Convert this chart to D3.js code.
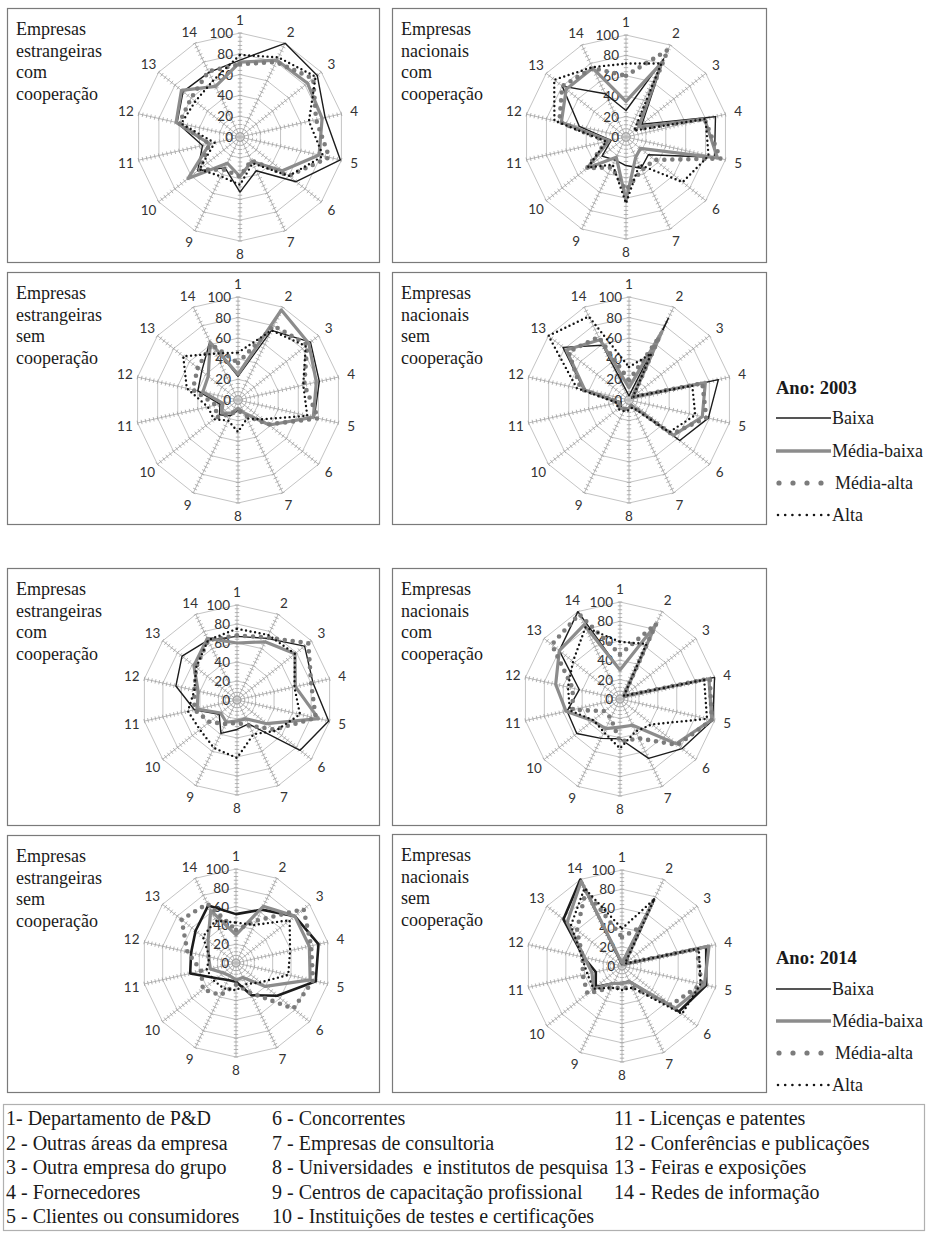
<!DOCTYPE html>
<html><head><meta charset="utf-8">
<script src="https://cdn.jsdelivr.net/npm/d3@7"></script>
<style>body{margin:0;background:#fff}svg{display:block}</style>
</head><body>
<svg id="c" width="927" height="1233"></svg>
<script>
// ---------- DATA ----------
const categories = ["1","2","3","4","5","6","7","8","9","10","11","12","13","14"];
const radialTicks = [0,20,40,60,80,100];
const seriesNames = ["Baixa","Média-baixa","Média-alta","Alta"];
const yearLabels = ["Ano: 2003","Ano: 2014"];
const titleEstCom = ["Empresas","estrangeiras","com","cooperação"];
const titleNacCom = ["Empresas","nacionais","com","cooperação"];
const titleEstSem = ["Empresas","estrangeiras","sem","cooperação"];
const titleNacSem = ["Empresas","nacionais","sem","cooperação"];
// each panel: [Baixa, Média-baixa, Média-alta, Alta], values per category 1..14
const est2003Com = [
  [74,100,95,84,99,69,36,53,33,52,37,62,70,69],
  [72,82,83,81,78,52,26,38,28,64,30,63,72,54],
  [70,80,90,75,88,60,25,38,35,50,30,60,60,70],
  [79,85,93,68,82,60,28,46,42,50,25,58,55,60]
];
const nac2003Com = [
  [26,85,20,90,89,28,34,28,25,30,15,47,80,47],
  [35,81,16,79,92,18,22,62,22,49,17,65,75,75],
  [60,95,12,79,95,36,36,52,33,49,20,67,80,75],
  [72,80,10,80,83,71,30,65,30,48,20,72,90,76]
];
const est2003Sem = [
  [23,75,90,81,76,39,14,10,17,23,18,40,45,63],
  [25,97,88,78,75,39,14,8,14,20,15,35,37,62],
  [36,80,86,66,80,38,17,10,15,27,22,45,50,60],
  [46,75,84,65,69,30,20,31,22,30,30,51,68,50]
];
const nac2003Sem = [
  [4,88,3,89,79,63,6,7,10,10,8,45,82,59],
  [12,74,5,76,73,55,6,8,10,12,10,44,78,65],
  [19,68,5,73,77,53,6,9,10,12,10,48,75,68],
  [32,50,5,63,66,50,8,10,12,14,12,52,100,90]
];
const est2014Com = [
  [67,72,91,82,99,85,28,31,39,24,46,66,74,70],
  [60,68,78,63,88,40,22,22,26,22,43,42,58,72],
  [68,73,96,80,85,50,30,24,28,37,46,46,55,70],
  [75,76,78,62,68,52,40,61,56,50,53,46,55,70]
];
const nac2014Com = [
  [30,86,6,100,98,82,68,41,45,57,56,43,80,100],
  [30,85,5,94,97,74,30,29,34,36,57,68,80,85],
  [46,86,5,95,97,76,45,44,22,20,50,50,90,97],
  [59,63,5,89,92,42,37,51,38,35,53,55,62,82]
];
const est2014Sem = [
  [52,63,80,90,87,56,38,20,20,26,50,49,55,68],
  [30,67,80,80,81,40,17,18,15,17,28,30,38,62],
  [35,50,92,82,84,78,35,23,38,45,38,53,74,70],
  [43,45,73,59,57,33,25,29,30,30,32,29,45,50]
];
const nac2014Sem = [
  [2,77,3,90,90,76,18,18,20,35,28,41,78,100],
  [3,72,3,93,88,71,18,18,20,38,32,40,73,98],
  [30,45,4,80,85,65,25,23,25,46,42,42,60,87],
  [39,77,4,82,84,80,25,25,25,38,37,43,68,90]
];
const legendCol1 = ["1- Departamento de P&D","2 - Outras áreas da empresa","3 - Outra empresa do grupo","4 - Fornecedores","5 - Clientes ou consumidores"];
const legendCol2 = ["6 - Concorrentes","7 - Empresas de consultoria","8 - Universidades  e institutos de pesquisa","9 - Centros de capacitação profissional","10 - Instituições de testes e certificações"];
const legendCol3 = ["11 - Licenças e patentes","12 - Conferências e publicações","13 - Feiras e exposições","14 - Redes de informação"];

// ---------- LAYOUT ----------
const panels = [
  {data:est2003Com, title:titleEstCom, box:[7,8,372,254],   cx:240, cy:137, R:104, bw:1.4},
  {data:nac2003Com, title:titleNacCom, box:[392,8,374,254], cx:626, cy:137, R:102, bw:1.4},
  {data:est2003Sem, title:titleEstSem, box:[7,272,372,252], cx:238, cy:400, R:103, bw:1.4},
  {data:nac2003Sem, title:titleNacSem, box:[392,272,374,252], cx:629, cy:400, R:103, bw:1.4},
  {data:est2014Com, title:titleEstCom, box:[7,568,372,257], cx:237, cy:700, R:95, bw:1.4},
  {data:nac2014Com, title:titleNacCom, box:[392,568,374,257], cx:620, cy:699, R:97, bw:1.4},
  {data:est2014Sem, title:titleEstSem, box:[7,835,372,257], cx:236, cy:963, R:94, bw:2.6},
  {data:nac2014Sem, title:titleNacSem, box:[392,834,374,258], cx:622, cy:966, R:96, bw:2.6}
];
const serif = "'Liberation Serif','Times New Roman',serif";
const sans = "Lato,'Open Sans',sans-serif";
const styles = [
  {stroke:"#1c1c1c", w:null, dash:null, cap:"butt"},
  {stroke:"#8c8c8c", w:3.2, dash:null, cap:"butt"},
  {stroke:"#7c7c7c", w:4.6, dash:"0 8", cap:"round"},
  {stroke:"#141414", w:2.4, dash:"0 4.6", cap:"round"}
];

const svg = d3.select("#c");
const angle = d3.scaleLinear().domain([0, categories.length]).range([0, 2*Math.PI]);

panels.forEach(p => {
  const [bx,by,bw,bh] = p.box;
  svg.append("rect").attr("x",bx+0.5).attr("y",by+0.5).attr("width",bw).attr("height",bh)
    .attr("fill","#fff").attr("stroke","#7a7a7a").attr("stroke-width",1.2);
  const t = svg.append("text").attr("font-family",serif).attr("font-size",18).attr("fill","#1a1a1a");
  p.title.forEach((s,i)=> t.append("tspan").attr("x",bx+9).attr("y",by+27+i*21.6).text(s));

  const g = svg.append("g").attr("transform",`translate(${p.cx},${p.cy})`);
  const r = d3.scaleLinear().domain([0,100]).range([0,p.R]);
  // rings
  const ring = d3.lineRadial().angle((d,i)=>angle(i)).radius(d=>r(d)).curve(d3.curveLinearClosed);
  radialTicks.slice(1).forEach(v=>{
    g.append("path").attr("d", ring(categories.map(()=>v))).attr("fill","none")
      .attr("stroke","#c4c4c4").attr("stroke-width",1);
  });
  // spokes with tick marks
  const minor = d3.range(4,101,4);
  categories.forEach((c,i)=>{
    const a = angle(i), sx = Math.sin(a), sy = -Math.cos(a);
    g.append("line").attr("x1",0).attr("y1",0).attr("x2",sx*r(100)).attr("y2",sy*r(100))
      .attr("stroke","#b8b8b8").attr("stroke-width",1);
    minor.forEach(v=>{
      const px = sx*r(v), py = sy*r(v), nx = -sy, ny = sx;
      g.append("line").attr("x1",px-nx*2.2).attr("y1",py-ny*2.2).attr("x2",px+nx*2.2).attr("y2",py+ny*2.2)
        .attr("stroke","#a0a0a0").attr("stroke-width",0.8);
    });
    const lr = r(100)+13;
    g.append("text").attr("x",sx*lr).attr("y",sy*lr).attr("text-anchor","middle")
      .attr("dominant-baseline","central").attr("font-family",sans).attr("font-size",13.5)
      .attr("fill","#333").text(c);
  });
  // tick labels
  radialTicks.forEach(v=>{
    g.append("text").attr("x",-7).attr("y",-r(v)).attr("text-anchor","end")
      .attr("dominant-baseline","central").attr("font-family",sans).attr("font-size",13.5)
      .attr("fill","#333").text(v);
  });
  // series
  const line = d3.lineRadial().angle((d,i)=>angle(i)).radius(d=>r(d)).curve(d3.curveLinearClosed);
  p.data.forEach((vals,si)=>{
    const s = styles[si];
    const path = g.append("path").attr("d", line(vals)).attr("fill","none")
      .attr("stroke",s.stroke).attr("stroke-width", s.w===null ? p.bw : s.w)
      .attr("stroke-linecap",s.cap).attr("stroke-linejoin","round");
    if (s.dash) path.attr("stroke-dasharray",s.dash);
  });
});

// year legends
function yearLegend(label, y0, ys){
  svg.append("text").attr("x",776).attr("y",y0+6).attr("font-family",serif).attr("font-weight","bold")
    .attr("font-size",18.5).attr("fill","#1a1a1a").text(label);
  seriesNames.forEach((n,i)=>{
    const y = ys[i];
    if (i===0) svg.append("line").attr("x1",776).attr("x2",831).attr("y1",y).attr("y2",y).attr("stroke","#1c1c1c").attr("stroke-width",1.4);
    if (i===1) svg.append("line").attr("x1",776).attr("x2",831).attr("y1",y).attr("y2",y).attr("stroke","#8c8c8c").attr("stroke-width",3.4);
    if (i===2) [779,793,807,821].forEach(x=>svg.append("circle").attr("cx",x).attr("cy",y).attr("r",2.6).attr("fill","#7c7c7c"));
    if (i===3) svg.append("line").attr("x1",778).attr("x2",829).attr("y1",y).attr("y2",y).attr("stroke","#141414")
      .attr("stroke-width",2.6).attr("stroke-linecap","round").attr("stroke-dasharray","0 7.2");
    svg.append("text").attr("x", i===2 ? 835 : 832).attr("y",y+6).attr("font-family",serif).attr("font-size",18)
      .attr("fill","#1a1a1a").text(n);
  });
}
yearLegend(yearLabels[0], 388, [418,451,483,515]);
yearLegend(yearLabels[1], 958, [989,1021,1053,1085]);

// category legend box
svg.append("rect").attr("x",3.5).attr("y",1104.5).attr("width",921).attr("height",126)
  .attr("fill","#fff").attr("stroke","#b0b0b0").attr("stroke-width",1.2);
[[legendCol1,6],[legendCol2,272],[legendCol3,614]].forEach(([col,x])=>{
  col.forEach((s,i)=>{
    svg.append("text").attr("x",x).attr("y",1125+i*24.5).attr("font-family",serif).attr("font-size",20)
      .attr("fill","#1a1a1a").style("white-space","pre").text(s);
  });
});
</script>
</body></html>
